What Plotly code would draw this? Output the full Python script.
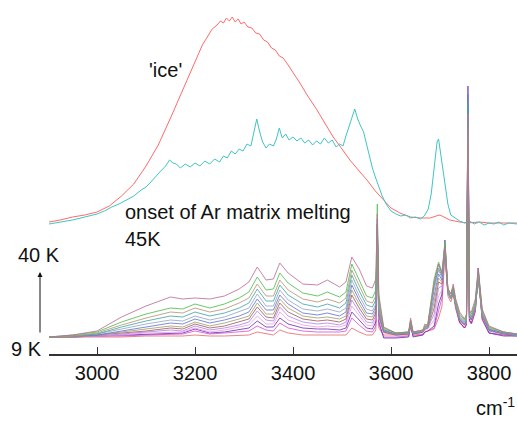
import plotly.graph_objects as go

# ---------------- data (wavenumber in cm-1, absorbance in arbitrary units) --------
ice_x = [2902, 2925, 2950, 2975, 3000, 3025, 3050, 3075, 3100, 3125, 3150, 3170, 3190, 3205,
         3215, 3225, 3235, 3245, 3252, 3258, 3264, 3270, 3276, 3282, 3288, 3294, 3300, 3308,
         3316, 3324, 3332, 3340, 3348, 3356, 3364, 3372, 3380, 3390, 3400, 3414, 3430, 3449,
         3466, 3482, 3500, 3516, 3535, 3551, 3568, 3584, 3600, 3618, 3640, 3660, 3680, 3692,
         3700, 3708, 3720, 3740, 3755, 3780, 3800, 3830, 3857]
ice_y = [132, 134, 137, 139, 142, 148, 158, 170, 188, 209, 236, 258, 281, 298,
         309, 317, 325, 329, 333, 331, 336, 333, 337, 332, 335, 330, 332, 327,
         326, 321, 320, 314, 312, 306, 304, 298, 296, 289, 282, 271, 258, 244,
         230, 217, 205, 194, 183, 174, 163, 154, 146, 141, 137, 136, 136, 138,
         139, 137, 134, 132, 131, 132, 131, 131, 131]

melt_x = [2902, 2925, 2950, 2975, 3000, 3015, 3030, 3045, 3060, 3075, 3090, 3100, 3110, 3120,
          3130, 3140, 3148, 3155, 3162, 3170, 3180, 3190, 3200, 3210, 3220, 3230, 3240, 3250,
          3258, 3266, 3274, 3282, 3290, 3298, 3306, 3314, 3320, 3326, 3332, 3338, 3345, 3352,
          3360, 3366, 3372, 3378, 3385, 3392, 3400, 3408, 3416, 3424, 3432, 3440, 3448, 3456,
          3464, 3472, 3480, 3488, 3495, 3502, 3508, 3514, 3520, 3526, 3532, 3538, 3544, 3550,
          3556, 3562, 3568, 3575, 3582, 3590, 3600, 3610, 3620, 3630, 3640, 3650, 3660, 3668,
          3676, 3682, 3688, 3694, 3697, 3700, 3705, 3710, 3716, 3722, 3730, 3740, 3750, 3760,
          3770, 3780, 3790, 3800, 3810, 3820, 3830, 3840, 3857]
melt_y = [130, 132, 134, 137, 140, 143, 147, 150, 154, 158, 164, 167, 172, 178,
          183, 188, 194, 191, 190, 186, 190, 187, 191, 188, 193, 190, 195, 192,
          198, 196, 203, 200, 205, 203, 210, 208, 220, 235, 222, 212, 206, 210,
          208, 215, 226, 216, 220, 214, 217, 213, 216, 211, 214, 209, 213, 210,
          216, 211, 214, 207, 210, 208, 218, 226, 236, 245, 235, 228, 222, 210,
          197, 186, 177, 168, 158, 150, 143, 140, 138, 139, 136, 137, 135, 138,
          145, 160, 185, 212, 215, 205, 188, 168, 150, 139, 136, 133, 131, 133,
          130, 132, 129, 131, 130, 132, 129, 131, 130]

wn = [2902, 2950, 3000, 3050, 3100, 3150, 3175, 3200, 3230, 3260, 3290, 3310, 3327, 3345,
      3360, 3373, 3390, 3420, 3450, 3470, 3495, 3508, 3520, 3535, 3550, 3562, 3569, 3572,
      3575, 3585,
      3610, 3636, 3640, 3645, 3665, 3669, 3675, 3688, 3697, 3704, 3710, 3716, 3722, 3727,
      3732, 3740, 3750, 3754, 3757, 3760, 3764, 3772, 3778, 3786, 3800, 3830, 3857]

t01 = [17, 19, 23, 37, 48, 57, 55, 56, 55, 58, 65, 72, 87, 74, 75, 91, 81, 70, 69, 74, 67, 72, 97, 85, 68, 66, 75, 140, 60, 27,
       21, 22, 36, 22, 24, 30, 28, 70, 90, 80, 108, 65, 60, 70, 55, 42, 35, 40, 240, 42, 42, 55, 86, 45, 28, 22, 20]
t02 = [17, 19, 22, 32, 40, 46, 45, 50, 46, 50, 56, 62, 77, 64, 65, 81, 71, 61, 58, 62, 57, 62, 90, 74, 58, 56, 64, 150, 55, 26,
       21, 22, 34, 22, 24, 28, 30, 75, 92, 82, 112, 66, 60, 68, 54, 40, 34, 38, 230, 44, 40, 52, 84, 44, 27, 22, 20]
t03 = [17, 18, 21, 29, 36, 42, 41, 46, 42, 45, 51, 56, 70, 58, 58, 74, 64, 55, 52, 55, 51, 56, 84, 68, 53, 51, 58, 120, 50, 25,
       21, 22, 33, 22, 23, 27, 29, 72, 90, 80, 110, 64, 58, 66, 52, 38, 33, 36, 220, 42, 38, 50, 82, 42, 26, 22, 20]
t04 = [17, 18, 20, 27, 33, 38, 37, 42, 38, 41, 46, 51, 65, 53, 53, 69, 59, 50, 47, 50, 46, 51, 79, 63, 49, 47, 54, 130, 48, 24,
       20, 21, 32, 21, 23, 27, 28, 68, 86, 78, 108, 63, 57, 64, 51, 37, 32, 35, 250, 40, 37, 49, 80, 41, 25, 21, 19]
t05 = [17, 18, 20, 25, 30, 34, 33, 38, 34, 37, 42, 46, 60, 48, 48, 64, 54, 45, 43, 45, 42, 46, 74, 58, 45, 43, 50, 125, 45, 24,
       20, 21, 31, 21, 23, 26, 27, 64, 84, 76, 106, 62, 56, 63, 50, 36, 31, 34, 210, 39, 36, 48, 78, 40, 25, 21, 19]
t06 = [17, 18, 19, 23, 27, 31, 30, 35, 31, 34, 38, 42, 55, 44, 44, 59, 50, 41, 39, 41, 38, 42, 69, 54, 41, 40, 47, 135, 43, 23,
       20, 21, 31, 21, 22, 26, 27, 58, 80, 74, 106, 62, 56, 62, 49, 35, 30, 33, 260, 38, 35, 47, 78, 39, 24, 21, 19]
t07 = [17, 17, 19, 22, 25, 28, 27, 32, 28, 31, 35, 38, 51, 40, 40, 55, 46, 38, 36, 37, 35, 38, 64, 50, 38, 37, 44, 120, 41, 23,
       20, 21, 30, 21, 22, 25, 26, 52, 76, 72, 104, 61, 55, 61, 48, 35, 30, 33, 200, 38, 35, 47, 76, 39, 24, 21, 19]
t08 = [17, 17, 19, 21, 23, 26, 25, 30, 26, 28, 32, 35, 47, 37, 36, 51, 42, 35, 33, 34, 32, 35, 59, 46, 35, 34, 41, 125, 39, 22,
       19, 20, 30, 20, 22, 25, 26, 46, 72, 70, 104, 61, 55, 61, 48, 34, 29, 32, 230, 37, 34, 46, 76, 38, 24, 20, 19]
t09 = [17, 17, 18, 20, 22, 24, 23, 28, 24, 26, 29, 32, 43, 34, 33, 47, 38, 32, 30, 31, 29, 32, 54, 42, 32, 31, 38, 130, 37, 22,
       19, 20, 30, 20, 22, 25, 26, 40, 66, 68, 104, 62, 56, 62, 48, 34, 29, 32, 220, 37, 34, 46, 78, 38, 23, 20, 19]
t10 = [17, 17, 18, 19, 21, 22, 22, 26, 22, 24, 27, 29, 38, 30, 30, 42, 34, 29, 27, 28, 27, 29, 48, 38, 29, 28, 35, 125, 35, 21,
       19, 20, 29, 20, 21, 24, 25, 34, 58, 64, 104, 62, 56, 62, 48, 34, 28, 31, 240, 36, 33, 45, 78, 37, 23, 20, 19]
t11 = [17, 17, 18, 19, 20, 21, 21, 25, 21, 22, 24, 26, 33, 27, 27, 36, 30, 26, 25, 25, 24, 26, 42, 34, 26, 25, 32, 130, 33, 16,
       16, 17, 30, 17, 19, 22, 23, 28, 50, 60, 114, 64, 56, 66, 48, 32, 26, 30, 268, 34, 31, 44, 86, 36, 21, 18, 18]
t12 = [17, 17, 18, 18, 19, 20, 20, 23, 20, 21, 22, 23, 28, 24, 23, 31, 26, 23, 22, 22, 22, 23, 36, 29, 23, 22, 28, 120, 30, 17,
       17, 18, 28, 18, 19, 22, 23, 26, 44, 56, 108, 62, 55, 64, 47, 32, 26, 30, 250, 33, 30, 43, 82, 35, 21, 19, 18]
t13 = [17, 17, 17, 17, 18, 18, 18, 19, 18, 18, 19, 19, 22, 20, 19, 24, 21, 19, 19, 19, 19, 19, 26, 22, 19, 19, 24, 110, 26, 19,
       19, 19, 27, 19, 20, 22, 23, 25, 36, 48, 100, 58, 52, 60, 45, 31, 26, 29, 230, 33, 30, 42, 80, 34, 21, 19, 19]

series = [t13, t12, t11, t10, t09, t08, t07, t06, t05, t04, t03, t02, t01]
colors = ["#e87070", "#d858d8", "#7038b0", "#f0a0e8", "#b088f0", "#a86060", "#a8a070",
          "#6878d8", "#98a8c8", "#48a8a8", "#b89878", "#50c050", "#c0709a"]

tick_vals = [3000, 3200, 3400, 3600, 3800]
tick_text = ["3000", "3200", "3400", "3600", "3800"]

# ---------------- figure ----------------
fig = go.Figure()
fig.add_trace(go.Scatter(x=ice_x, y=ice_y, mode="lines",
                         line=dict(color="#ff6a6a", width=1), showlegend=False))
fig.add_trace(go.Scatter(x=melt_x, y=melt_y, mode="lines",
                         line=dict(color="#40c4c4", width=1), showlegend=False))
for s, c in zip(series, colors):
    fig.add_trace(go.Scatter(x=wn, y=s, mode="lines",
                             line=dict(color=c, width=1), opacity=0.85, showlegend=False))

FONT = "Arial, Liberation Sans, sans-serif"
W, H = 517, 421
L, B = 49, 67
PW, PH = W - L, H - B

def px(xp):
    return (xp - L) / PW

def py(yp):
    return (PH - yp) / PH

ann = []
ann.append(dict(text="'ice'", x=px(147), y=py(70), xref="paper", yref="paper",
                xanchor="left", yanchor="middle", showarrow=False))
ann.append(dict(text="onset of Ar matrix melting", x=px(123), y=py(212), xref="paper",
                yref="paper", xanchor="left", yanchor="middle", showarrow=False))
ann.append(dict(text="45K", x=px(123), y=py(239), xref="paper", yref="paper",
                xanchor="left", yanchor="middle", showarrow=False))
ann.append(dict(text="40 K", x=px(16), y=py(255), xref="paper", yref="paper",
                xanchor="left", yanchor="middle", showarrow=False))
ann.append(dict(text="9 K", x=px(44), y=py(349), xref="paper", yref="paper",
                xanchor="right", yanchor="middle", showarrow=False))
ann.append(dict(text="", x=px(40), y=py(272), xref="paper", yref="paper",
                showarrow=True, ax=0, ay=62, arrowhead=2, arrowsize=1, arrowwidth=1,
                arrowcolor="#111"))
ann.append(dict(text="cm<sup>-1</sup>", x=1.0, y=py(421), xref="paper", yref="paper",
                xanchor="right", yanchor="bottom", showarrow=False))

fig.update_layout(
    width=W, height=H,
    margin=dict(l=L, r=0, t=0, b=B, pad=0),
    plot_bgcolor="white", paper_bgcolor="white",
    font=dict(family=FONT, size=20, color="#111"),
    xaxis=dict(range=[2902, 2902 + PW / 0.49], tickvals=tick_vals, ticktext=tick_text,
               ticks="inside", ticklen=7, tickwidth=1.2, tickcolor="#333",
               showline=True, linecolor="#333", linewidth=1.5, showgrid=False,
               zeroline=False, tickfont=dict(size=20, family=FONT, color="#111")),
    yaxis=dict(range=[0, PH], visible=False),
    annotations=ann,
)

fig.write_html("out.html", config={"displayModeBar": False},
               post_script="document.body.style.margin='0';document.body.style.overflow='hidden';")
